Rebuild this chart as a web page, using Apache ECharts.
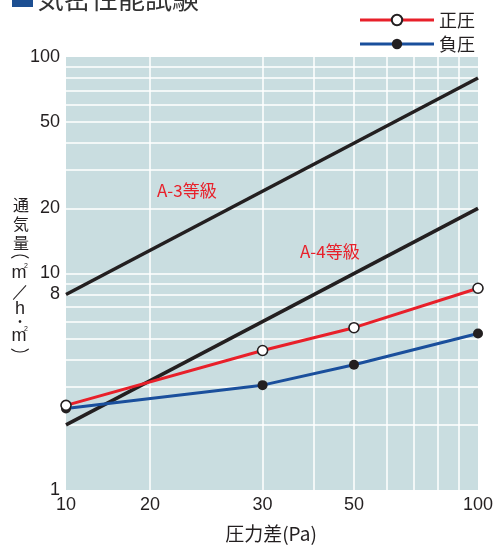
<!DOCTYPE html>
<html><head><meta charset="utf-8">
<script src="https://cdn.jsdelivr.net/npm/echarts@6/dist/echarts.min.js"></script>
<style>html,body{margin:0;padding:0;background:#fff}#c{width:498px;height:548px}</style>
</head><body><div id="c"></div>
<script>
// ---- data ----
const pressure = [10, 30, 50, 100];
const positiveFlow = [2.46, 4.41, 5.62, 8.55];   // 正圧
const negativeFlow = [2.38, 3.05, 3.79, 5.28];   // 負圧
const gradeX = [10, 100];
const gradeA3 = [8, 80];
const gradeA4 = [2, 20];
const xGridValues = [16, 30, 40, 50, 60, 70, 80, 90];
const xTickValues = [10, 16, 30, 50, 100];
const xTickLabels = ['10', '20', '30', '50', '100'];
const yGridValues = [2, 3, 4, 5, 6, 7, 8, 9, 10, 20, 30, 40, 50, 60, 70, 80, 90];
const yTickValues = [1, 8, 10, 20, 50, 100];
const yTickLabels = ['1', '8', '10', '20', '50', '100'];

const NUM_FONT = "'Liberation Sans', Arial, sans-serif";
const CJK_FONT = "'Noto Sans CJK JP', sans-serif";
const TXT = '#231f20';

function pairs(xs, ys) { return xs.map((x, i) => [x, ys[i]]); }

const gridLine = { color: '#ffffff', width: 1.5, type: 'solid' };
const hidden = { color: 'rgba(0,0,0,0)', width: 0 };
const markData = [];
xGridValues.forEach(v => {
  const k = xTickValues.indexOf(v);
  markData.push({ xAxis: v, lineStyle: gridLine,
    label: { show: k >= 0, formatter: k >= 0 ? xTickLabels[k] : '' } });
});
xTickValues.forEach((v, k) => {
  if (xGridValues.indexOf(v) < 0) markData.push({ xAxis: v, lineStyle: hidden, label: { show: true, formatter: xTickLabels[k] } });
});
yGridValues.forEach(v => {
  const k = yTickValues.indexOf(v);
  markData.push({ yAxis: v, lineStyle: gridLine,
    label: { show: k >= 0, formatter: k >= 0 ? yTickLabels[k] : '' } });
});
yTickValues.forEach((v, k) => {
  if (yGridValues.indexOf(v) < 0) markData.push({ yAxis: v, lineStyle: hidden, label: { show: true, formatter: yTickLabels[k] } });
});

const chart = echarts.init(document.getElementById('c'), null, { renderer: 'canvas' });

function txt(x, y, text, font, extra) {
  return { type: 'text', z: 50, style: Object.assign({ x: x, y: y, text: text, font: font, fill: TXT,
    align: 'center', textAlign: 'center', verticalAlign: 'middle', textVerticalAlign: 'middle' }, extra || {}) };
}
function bracket(cy, up) {
  const mid = up ? 1.5 * Math.PI : 0.5 * Math.PI;
  return { type: 'arc', z: 50, shape: { cx: 20, cy: cy, r: 14, startAngle: mid - 0.68, endAngle: mid + 0.68 },
    style: { stroke: TXT, lineWidth: 1.1, fill: null } };
}
const CJK15 = "16px 'Noto Sans CJK JP'";
const graphics = [
  { type: 'rect', shape: { x: 12, y: -20, width: 21, height: 27 }, style: { fill: '#1d4f92' } },
  { type: 'text', style: { x: 37, y: 12, text: '気密性能試験', font: "27px 'Noto Sans CJK JP'", fill: '#333', verticalAlign: 'bottom', textVerticalAlign: 'bottom' } },
  txt(157, 191, 'A-3等級', "17px 'Noto Sans CJK JP'", { fill: '#e8202a', align: 'left', textAlign: 'left' }),
  txt(300, 252, 'A-4等級', "17px 'Noto Sans CJK JP'", { fill: '#e8202a', align: 'left', textAlign: 'left' }),
  txt(271, 534, '圧力差(Pa)', "19px 'Noto Sans CJK JP'"),
  // vertical y-axis name: 通気量(㎥/h・㎡)
  txt(21, 205, '通', CJK15), txt(21, 224, '気', CJK15), txt(21, 243, '量', CJK15),
  bracket(269, true),
  txt(19, 273, 'm', "18px 'Liberation Sans'"), txt(26, 266, '2', "7px 'Liberation Sans'"),
  txt(20, 292, '／', "17px 'Liberation Sans'"),
  txt(20, 309, 'h', "18px 'Liberation Sans'"),
  txt(20, 322, '•', "10px 'Liberation Sans'"),
  txt(19, 336, 'm', "18px 'Liberation Sans'"), txt(26, 329, '2', "7px 'Liberation Sans'"),
  bracket(338, false)
];

chart.setOption({
  animation: false,
  backgroundColor: '#ffffff',
  grid: { left: 66, right: 20, top: 57, bottom: 58, show: true, backgroundColor: '#c9dde0', borderWidth: 0 },
  xAxis: { type: 'log', logBase: 10, min: 10, max: 100,
    axisLine: { show: false }, axisTick: { show: false }, axisLabel: { show: false }, splitLine: { show: false } },
  yAxis: { type: 'log', logBase: 10, min: 1, max: 100,
    axisLine: { show: false }, axisTick: { show: false }, axisLabel: { show: false }, splitLine: { show: false } },
  legend: {
    data: ['正圧', '負圧'], orient: 'vertical', right: 18, top: 6,
    itemWidth: 74, itemHeight: 13, itemGap: 6,
    lineStyle: { width: 3 },
    textStyle: { fontSize: 18, fontFamily: CJK_FONT, color: TXT }
  },
  graphic: graphics,
  series: [
    { name: 'grid', type: 'line', data: [], z: 1, silent: true,
      markLine: { silent: true, z: 1, symbol: ['none', 'none'], animation: false,
        label: { position: 'start', distance: 6, color: TXT, fontSize: 18, fontFamily: NUM_FONT },
        data: markData } },
    { name: 'A-3', type: 'line', data: pairs(gradeX, gradeA3), symbol: 'none', z: 10,
      lineStyle: { color: '#231f20', width: 3.5 } },
    { name: 'A-4', type: 'line', data: pairs(gradeX, gradeA4), symbol: 'none', z: 10,
      lineStyle: { color: '#231f20', width: 3.5 } },
    { name: '正圧', type: 'line', data: pairs(pressure, positiveFlow), z: 12,
      symbol: 'circle', symbolSize: 10,
      lineStyle: { color: '#e8202a', width: 3 },
      itemStyle: { color: '#ffffff', borderColor: '#231f20', borderWidth: 1.6 } },
    { name: '負圧', type: 'line', data: pairs(pressure, negativeFlow), z: 11,
      symbol: 'circle', symbolSize: 10,
      lineStyle: { color: '#1a4f9c', width: 3 },
      itemStyle: { color: '#231f20', borderColor: '#231f20', borderWidth: 0 } }
  ]
});
</script></body></html>
